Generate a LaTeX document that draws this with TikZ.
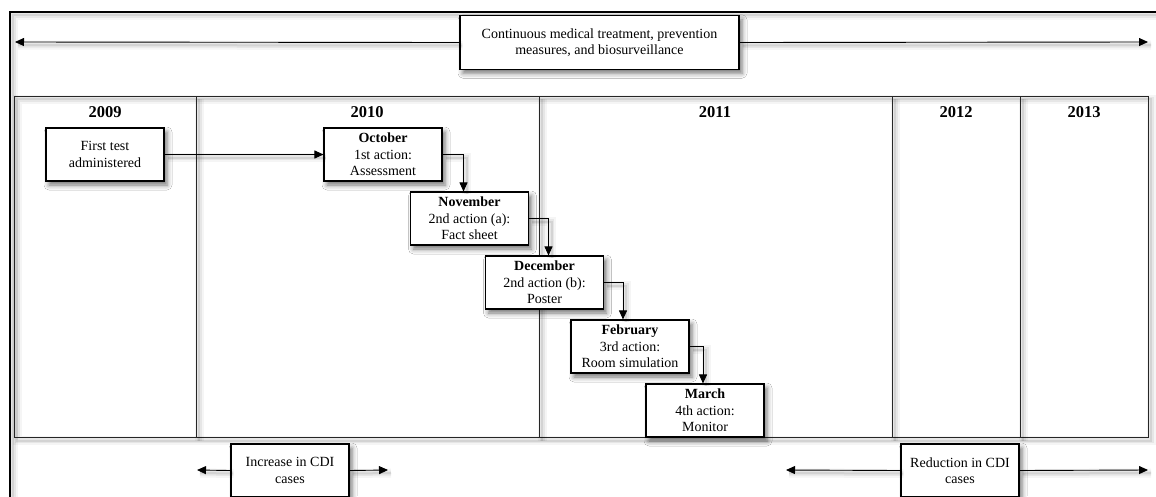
\documentclass[tikz,border=0pt]{standalone}
\usepackage{fontspec}
\setmainfont{Liberation Serif}
\usetikzlibrary{arrows.meta,shadows.blur}

\begin{document}
\begin{tikzpicture}[x=1pt,y=-1pt,
  % soft drop shadow under plain lines
  lineshadow/.style={
    preaction={arrows=-,draw=black,draw opacity=0.04,line width=9pt,transform canvas={shift={(3pt,-3pt)}}},
    preaction={arrows=-,draw=black,draw opacity=0.06,line width=5pt,transform canvas={shift={(3pt,-3pt)}}},
    preaction={arrows=-,draw=black,draw opacity=0.08,line width=2pt,transform canvas={shift={(3pt,-3pt)}}}},
  frame/.style={draw=black,line width=2.6pt,lineshadow},
  gridline/.style={draw=black!85,line width=1pt,lineshadow},
  box/.style={draw,line width=1.1pt,fill=white,minimum width=118pt,minimum height=53pt,
    inner sep=1pt,align=center,font=\fontsize{14}{16.5}\selectfont,
    blur shadow={shadow xshift=3pt,shadow yshift=-4pt,shadow blur radius=5pt,shadow opacity=55}},
  year/.style={font=\fontsize{16.5}{19}\selectfont\bfseries},
  arr/.style={-{Triangle[length=9pt,width=8pt]},line width=0.9pt,lineshadow},
]
\clip (0,0) rectangle (1156,496);
\fill[white] (0,0) rectangle (1156,496);

% outer frame (continues past the right and lower edges)
\draw[frame,line join=miter] (1175,12) -- (10,12) -- (10,520);

% year grid
\draw[gridline] (14,96) rectangle (1148,437.5);
\foreach \xx in {196,539,892,1020}
  \draw[gridline] (\xx,96) -- (\xx,437.5);

% year headings
\node[year] (y2009) at (105,112.5) {2009};
\node[year] (y2010) at (367,112.5) {2010};
\node[year] (y2011) at (715,112.5) {2011};
\node[year] (y2012) at (956,112.5) {2012};
\node[year] (y2013) at (1084,112.5) {2013};

% continuous band at the top
\coordinate (topL) at (15,42);
\coordinate (topR) at (1148,42);
\node[box,minimum width=279pt,minimum height=53.5pt] (cont) at (599.5,42.5)
  {Continuous medical treatment, prevention\\measures, and biosurveillance};
\draw[arr] (cont.west) -- (topL);
\draw[arr] (cont.east) -- (topR);

% sequence of actions
\node[box] (first) at (105,154.5) {First test\\administered};
\node[box] (oct) at (383,154.5) {\textbf{October}\\1st action:\\Assessment};
\node[box] (nov) at (469.5,218.5) {\textbf{November}\\2nd action (a):\\Fact sheet};
\node[box] (dec) at (544.5,282.5) {\textbf{December}\\2nd action (b):\\Poster};
\node[box] (feb) at (630,346.5) {\textbf{February}\\3rd action:\\Room simulation};
\node[box] (mar) at (705,410.5) {\textbf{March}\\4th action:\\Monitor};

\draw[arr] (first.east) -- (oct.west);
\draw[arr] (oct.east) -| ([xshift=-6pt]nov.north);
\draw[arr] (nov.east) -| ([xshift=4pt]dec.north);
\draw[arr] (dec.east) -| ([xshift=-7pt]feb.north);
\draw[arr] (feb.east) -| ([xshift=-2pt]mar.north);

% CDI case trends
\node[box] (inc) at (290,470.5) {Increase in CDI\\cases};
\node[box] (red) at (960,470.5) {Reduction in CDI\\cases};
\coordinate (incL) at (197,470);
\coordinate (incR) at (388,470);
\coordinate (redL) at (786,470);
\coordinate (redR) at (1148,470);
\draw[arr] (inc.west) -- (incL);
\draw[arr] (inc.east) -- (incR);
\draw[arr] (red.west) -- (redL);
\draw[arr] (red.east) -- (redR);
\end{tikzpicture}
\end{document}
